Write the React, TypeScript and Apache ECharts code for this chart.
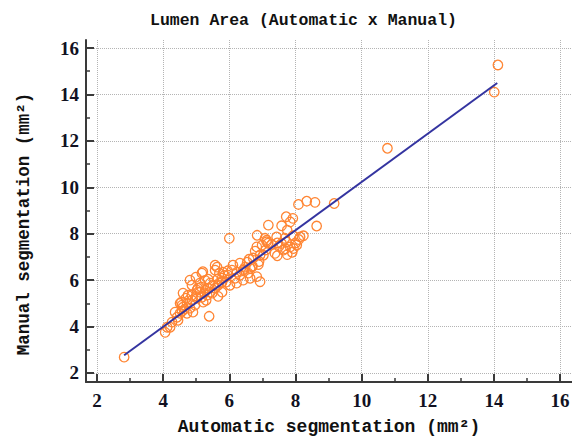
import React, { useEffect, useRef } from "react";
import * as echarts from "echarts";

const titleText = "Lumen Area (Automatic x Manual)";
const xName = "Automatic segmentation (mm²)";
const yName = "Manual segmentation (mm²)";

const majorTicks = [2, 4, 6, 8, 10, 12, 14, 16];
const minorTicks = [3, 5, 7, 9, 11, 13, 15];

// [automatic, manual]
const points: [number, number][] = [
  [2.82, 2.68], [14.12, 15.27], [14.01, 14.1], [10.78, 11.68], [9.17, 9.3],
  [4.06, 3.75], [4.12, 3.97], [4.27, 4.19], [4.42, 4.4], [4.51, 4.57],
  [4.57, 4.66], [4.6, 4.83], [4.51, 5.0], [4.72, 5.0], [4.81, 4.79],
  [4.87, 5.13], [4.96, 4.92], [5.02, 5.22], [5.17, 5.26], [5.21, 5.05],
  [5.33, 5.35], [5.42, 5.48], [5.57, 5.65], [5.66, 5.78], [4.87, 5.78],
  [5.02, 5.57], [5.11, 5.87], [5.78, 5.91], [4.6, 5.44], [4.75, 5.35],
  [4.9, 4.62], [4.72, 4.57], [4.45, 4.27], [4.21, 3.97], [5.39, 4.44],
  [4.81, 6.0], [4.99, 6.13], [5.17, 6.3], [5.36, 6.04], [5.63, 6.56],
  [5.57, 6.43], [5.2, 6.36], [5.57, 6.64], [6.11, 6.64], [6.32, 6.73],
  [5.81, 6.34], [6.23, 6.34], [6.48, 6.56], [6.57, 6.3], [5.27, 5.99],
  [5.42, 5.87], [5.78, 6.08], [5.36, 5.65], [5.78, 5.48], [4.87, 5.35],
  [6.0, 7.8], [6.78, 7.25], [6.93, 7.08], [6.72, 6.95], [6.84, 7.93],
  [7.08, 7.8], [6.99, 7.51], [7.17, 7.59], [5.96, 6.21], [6.08, 6.43],
  [6.17, 6.08], [6.32, 6.21], [6.41, 6.43], [6.54, 6.77], [6.63, 6.51],
  [5.9, 5.91], [6.02, 5.78], [5.69, 5.87], [5.51, 5.78], [5.27, 5.57],
  [5.48, 5.44], [5.11, 5.48], [5.66, 5.3], [5.3, 5.13], [4.99, 5.3],
  [4.69, 5.22], [4.57, 4.92], [4.36, 4.62], [8.09, 9.26], [8.34, 9.4],
  [8.59, 9.35], [7.72, 8.73], [7.92, 8.66], [7.84, 8.51], [7.18, 8.37],
  [7.58, 8.34], [8.64, 8.33], [7.75, 8.15], [7.13, 7.72], [7.43, 7.86],
  [7.68, 7.8], [7.93, 7.91], [8.14, 7.86], [8.24, 7.91], [6.83, 7.43],
  [7.28, 7.54], [7.58, 7.58], [7.73, 7.65], [8.04, 7.51], [7.84, 7.43],
  [7.38, 7.15], [7.63, 7.29], [7.03, 7.07], [7.94, 7.36], [6.88, 6.67],
  [6.68, 6.57], [6.9, 6.8], [6.6, 6.9], [6.45, 6.45], [6.7, 6.6],
  [7.1, 7.3], [7.5, 7.45], [7.7, 7.35], [8.0, 7.6], [8.1, 7.75],
  [7.9, 7.2], [7.45, 7.6], [5.65, 6.05], [5.85, 6.2], [5.95, 6.4],
  [5.7, 6.3], [5.05, 5.65], [5.25, 5.45], [5.15, 5.7], [4.55, 5.05],
  [4.65, 4.75], [6.63, 6.08], [6.83, 6.15], [6.93, 5.93], [6.42, 6.0],
  [6.22, 5.87], [7.45, 7.05], [7.75, 7.1], [7.13, 7.65],
];

// regression line endpoints
const fitLine: [number, number][] = [
  [2.82, 2.76],
  [14.1, 14.49],
];

const X_MIN = 1.667;
const X_MAX = 16.36;
const Y_MIN = 1.61;
const Y_MAX = 16.345;

const tickFont = {
  fontFamily: "Liberation Serif",
  fontWeight: "bold" as const,
  fontSize: 19,
  color: "#111122",
};

const nameFontBase = {
  fontFamily: "Liberation Mono",
  fontWeight: "bold" as const,
  color: "#111111",
};

export default function App() {
  const ref = useRef<HTMLDivElement>(null);
  useEffect(() => {
    if (!ref.current) return;
    const chart = echarts.init(ref.current, null, { renderer: "svg" });
    const axisLineStyle = { color: "#3a3a3a", width: 2 };
    const splitLineStyle = { color: "#b4b4b4", type: "dotted" as const, width: 1 };
    chart.setOption({
      animation: false,
      backgroundColor: "#ffffff",
      title: {
        text: titleText,
        left: 145,
        top: 7,
        textStyle: { ...nameFontBase, fontSize: 16.5 },
      },
      graphic: [
        {
          type: "text",
          x: 24,
          y: 224,
          rotation: Math.PI / 2,
          style: {
            text: yName,
            ...nameFontBase,
            fill: "#111111",
            fontSize: 17.5,
            align: "center",
            verticalAlign: "middle",
          },
        },
      ],
      grid: {
        left: 86,
        right: 0,
        top: 40,
        bottom: 55,
        containLabel: false,
        outerBoundsMode: "none",
      },
      xAxis: [
        {
          type: "value",
          min: X_MIN,
          max: X_MAX,
          position: "bottom",
          name: xName,
          nameLocation: "middle",
          nameGap: 36,
          nameTextStyle: { ...nameFontBase, fontSize: 18 },
          axisLine: { show: true, lineStyle: axisLineStyle },
          axisTick: {
            show: true,
            inside: true,
            length: 8,
            lineStyle: { color: "#3a3a3a", width: 2 },
            customValues: majorTicks,
          },
          axisLabel: { ...tickFont, margin: 9, customValues: majorTicks },
          splitLine: { show: true, lineStyle: splitLineStyle },
        },
        {
          type: "value",
          min: X_MIN,
          max: X_MAX,
          position: "bottom",
          axisLine: { show: false },
          axisTick: {
            show: true,
            inside: true,
            length: 4,
            lineStyle: { color: "#3a3a3a", width: 1.5 },
            customValues: minorTicks,
          },
          axisLabel: { show: false },
          splitLine: { show: false },
        },
      ],
      yAxis: [
        {
          type: "value",
          min: Y_MIN,
          max: Y_MAX,
          position: "left",
          axisLine: { show: true, lineStyle: axisLineStyle },
          axisTick: {
            show: true,
            inside: true,
            length: 8,
            lineStyle: { color: "#3a3a3a", width: 2 },
            customValues: majorTicks,
          },
          axisLabel: { ...tickFont, margin: 7, customValues: majorTicks },
          splitLine: { show: true, lineStyle: splitLineStyle },
        },
        {
          type: "value",
          min: Y_MIN,
          max: Y_MAX,
          position: "left",
          axisLine: { show: false },
          axisTick: {
            show: true,
            inside: true,
            length: 4,
            lineStyle: { color: "#3a3a3a", width: 1.5 },
            customValues: minorTicks,
          },
          axisLabel: { show: false },
          splitLine: { show: false },
        },
      ],
      series: [
        {
          type: "scatter",
          xAxisIndex: 0,
          yAxisIndex: 0,
          data: points,
          symbol: "circle",
          symbolSize: 9.5,
          itemStyle: {
            color: "rgba(0,0,0,0)",
            borderColor: "#ff8533",
            borderWidth: 1.3,
            opacity: 1,
          },
          z: 3,
        },
        {
          type: "line",
          xAxisIndex: 0,
          yAxisIndex: 0,
          data: fitLine,
          symbol: "none",
          lineStyle: { color: "#3434a0", width: 2 },
          z: 4,
        },
      ],
    });
    return () => chart.dispose();
  }, []);
  return <div ref={ref} style={{ width: 572, height: 437, position: "absolute", left: 0, top: 0 }} />;
}
